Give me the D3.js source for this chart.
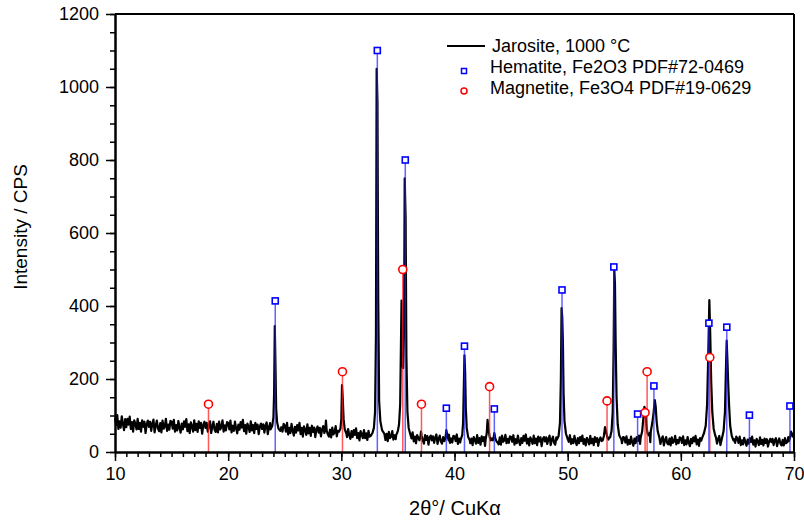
<!DOCTYPE html>
<html>
<head>
<meta charset="utf-8">
<script src="https://cdn.jsdelivr.net/npm/d3@7"></script>
<style>
body { margin: 0; background: #fff; }
text { font-family: "Liberation Sans", Arial, sans-serif; fill: #000; }
</style>
</head>
<body>
<div id="chart"></div>
<script>
// measured scan: background counts every 0.1 deg from 10 to 70 (one row per degree)
const scanStart = 10;
const scanStep = 0.1;
const background = [
    94, 74, 101, 63, 84, 67, 98, 77, 60, 90,
    68, 91, 75, 97, 63, 82, 56, 87, 77, 62,
    91, 63, 80, 56, 87, 69, 83, 52, 76, 86,
    69, 83, 58, 78, 89, 54, 73, 86, 64, 57,
    79, 54, 86, 64, 70, 91, 58, 75, 61, 85,
    83, 64, 88, 56, 74, 59, 85, 67, 53, 78,
    62, 84, 69, 90, 57, 76, 52, 81, 71, 56,
    87, 60, 77, 55, 84, 66, 80, 50, 73, 83,
    66, 80, 56, 75, 84, 52, 70, 83, 61, 55,
    77, 54, 83, 62, 68, 87, 56, 73, 59, 82,
    79, 62, 86, 54, 72, 58, 83, 65, 51, 75,
    61, 82, 67, 88, 57, 74, 50, 78, 69, 55,
    84, 59, 74, 52, 80, 63, 75, 49, 70, 78,
    63, 76, 53, 72, 81, 49, 67, 79, 59, 52,
    71, 49, 78, 58, 63, 82, 53, 68, 56, 77,
    73, 56, 80, 48, 66, 52, 77, 59, 45, 69,
    53, 74, 59, 80, 49, 66, 42, 70, 61, 47,
    76, 51, 66, 44, 72, 55, 67, 41, 62, 70,
    53, 66, 43, 62, 71, 39, 57, 69, 49, 42,
    61, 40, 67, 48, 53, 71, 43, 58, 46, 65,
    60, 46, 66, 38, 54, 41, 63, 47, 36, 57,
    41, 60, 47, 65, 38, 52, 32, 57, 49, 38,
    60, 38, 51, 33, 58, 42, 54, 29, 49, 56,
    42, 53, 35, 49, 58, 32, 46, 55, 38, 33,
    50, 30, 55, 38, 42, 57, 34, 46, 35, 53,
    51, 38, 56, 30, 45, 34, 55, 39, 29, 48,
    31, 50, 37, 54, 29, 42, 24, 46, 39, 28,
    49, 28, 41, 23, 46, 33, 44, 20, 39, 45,
    32, 43, 25, 39, 48, 22, 36, 45, 28, 23,
    41, 21, 46, 29, 33, 48, 25, 37, 26, 44,
    43, 30, 48, 22, 37, 26, 47, 31, 21, 41,
    26, 45, 32, 49, 24, 37, 19, 41, 34, 23,
    46, 25, 38, 20, 43, 30, 41, 17, 36, 42,
    30, 41, 23, 37, 46, 20, 34, 43, 26, 21,
    40, 20, 45, 28, 32, 47, 24, 36, 25, 43,
    41, 28, 46, 20, 35, 24, 45, 29, 19, 38,
    25, 44, 31, 48, 23, 36, 18, 40, 33, 22,
    45, 24, 37, 19, 42, 29, 40, 16, 35, 41,
    29, 40, 22, 36, 45, 19, 33, 42, 25, 20,
    40, 20, 45, 28, 32, 47, 24, 36, 25, 43,
    41, 28, 46, 22, 35, 24, 44, 29, 19, 38,
    24, 41, 30, 45, 22, 35, 18, 39, 32, 21,
    44, 24, 36, 19, 41, 28, 38, 17, 34, 40,
    30, 39, 22, 35, 43, 18, 32, 41, 24, 21,
    38, 19, 41, 26, 30, 45, 22, 34, 24, 41,
    39, 26, 43, 20, 33, 22, 42, 27, 17, 37,
    24, 41, 30, 45, 22, 35, 18, 39, 32, 21,
    46, 31, 40, 27, 44, 34, 41, 25, 38, 43,
    30, 39, 22, 35, 43, 18, 32, 41, 24, 21,
    37, 18, 40, 25, 29, 44, 21, 33, 24, 40,
    38, 25, 43, 19, 32, 21, 41, 26, 16, 36,
    24, 40, 29, 44, 21, 34, 17, 38, 31, 20,
    44, 29, 38, 25, 42, 32, 39, 23, 36, 41,
    31, 40, 23, 36, 44, 19, 33, 42, 25, 22,
    39, 20, 42, 27, 31, 46, 23, 35, 25, 42,
    37, 25, 42, 19, 32, 21, 39, 28, 17, 34,
    23, 38, 27, 42, 20, 32, 15, 36, 29, 19,
    40, 22, 33, 18, 37, 25, 35, 15, 29, 36,
    27, 36, 19, 32, 38, 16, 29, 37, 23, 18,
    33, 18, 38, 24, 27, 41, 20, 31, 22, 37,
    40
];

// reflections, [2theta, counts]
const peaks = [
    [[23.75, 62], [23.9, 72], [24.0, 95], [24.06, 160], [24.12, 345], [24.18, 240], [24.24, 120], [24.32, 82], [24.45, 64], [24.6, 58]],
    [[28.5, 52], [28.58, 62], [28.64, 86], [28.7, 60], [28.78, 50]],
    [[29.8, 56], [29.92, 64], [30.0, 90], [30.06, 183], [30.12, 150], [30.2, 90], [30.3, 62], [30.45, 50]],
    [[32.6, 44], [32.75, 52], [32.88, 66], [32.98, 110], [33.06, 320], [33.12, 1050], [33.19, 960], [33.26, 420], [33.34, 140], [33.45, 84], [33.6, 60], [33.8, 50]],
    [[34.85, 46], [35.0, 58], [35.1, 76], [35.2, 130], [35.27, 300], [35.32, 415], [35.38, 250], [35.46, 230], [35.54, 330], [35.6, 750], [35.68, 640], [35.75, 260], [35.84, 110], [35.95, 66], [36.1, 48]],
    [[36.9, 32], [36.98, 40], [37.04, 56], [37.1, 44], [37.2, 32]],
    [[39.1, 30], [39.2, 38], [39.28, 60], [39.36, 46], [39.48, 32]],
    [[40.55, 34], [40.68, 46], [40.76, 80], [40.83, 190], [40.88, 265], [40.94, 220], [41.0, 120], [41.08, 66], [41.2, 42], [41.35, 32]],
    [[42.75, 34], [42.85, 52], [42.92, 88], [43.0, 64], [43.1, 42], [43.2, 32]],
    [[43.38, 32], [43.46, 40], [43.52, 52], [43.6, 38], [43.7, 30]],
    [[49.05, 34], [49.2, 44], [49.32, 80], [49.4, 200], [49.46, 394], [49.52, 370], [49.58, 300], [49.64, 160], [49.72, 84], [49.85, 50], [50.0, 36]],
    [[53.1, 32], [53.2, 44], [53.3, 68], [53.38, 58], [53.5, 40], [53.6, 34]],
    [[53.75, 40], [53.88, 58], [53.98, 110], [54.06, 280], [54.12, 500], [54.18, 460], [54.24, 300], [54.32, 150], [54.42, 76], [54.55, 46], [54.75, 34]],
    [[56.45, 40], [56.58, 56], [56.7, 96], [56.78, 124], [56.86, 116], [56.95, 76], [57.05, 52], [57.15, 46], [57.25, 52]],
    [[57.35, 58], [57.48, 80], [57.6, 110], [57.7, 142], [57.78, 124], [57.86, 84], [57.96, 56], [58.1, 40]],
    [[61.9, 40], [62.05, 52], [62.2, 72], [62.32, 130], [62.42, 260], [62.52, 416], [62.6, 320], [62.68, 196], [62.78, 110], [62.9, 64], [63.05, 44]],
    [[63.65, 40], [63.78, 58], [63.9, 110], [63.98, 220], [64.05, 305], [64.12, 250], [64.18, 193], [64.26, 130], [64.36, 72], [64.5, 44], [64.65, 32]],
    [[69.55, 30], [69.66, 40], [69.74, 56], [69.82, 50], [69.9, 42], [70.0, 44]]
];

// PDF reference lines
const hematite2Theta = [24.16, 33.18, 35.65, 39.28, 40.88, 43.52, 49.5, 54.08, 56.18, 57.62, 62.48, 64.06, 66.06, 69.64];
const hematiteIntensity = [414, 1100, 800, 120, 290, 118, 444, 507, 104, 181, 353, 342, 101, 126];
const magnetite2Theta = [18.26, 30.1, 35.43, 37.08, 43.1, 53.48, 56.84, 57.02, 62.56];
const magnetiteIntensity = [131, 220, 500, 131, 179, 140, 108, 220, 259];

const xTicks = [10, 20, 30, 40, 50, 60, 70];
const yTicks = [0, 200, 400, 600, 800, 1000, 1200];
const legendLabels = ['Jarosite, 1000 °C', 'Hematite, Fe2O3 PDF#72-0469', 'Magnetite, Fe3O4 PDF#19-0629'];

function buildPattern() {
    let points = background.map((c, i) => ({x: +(scanStart + i * scanStep).toFixed(2), y: c}));
    peaks.forEach(pk => {
        const lo = pk[0][0], hi = pk[pk.length - 1][0];
        points = points.filter(p => p.x < lo || p.x > hi);
        pk.forEach(p => points.push({x: p[0], y: p[1]}));
    });
    return points.sort((a, b) => a.x - b.x);
}

function drawChart() {
    const W = 804, H = 521;
    const margin = {top: 14, right: 10, bottom: 69, left: 115};
    const width = W - margin.left - margin.right;
    const height = H - margin.top - margin.bottom;

    const svg = d3.select('#chart')
        .append('svg')
            .attr('width', W)
            .attr('height', H)
        .append('g')
            .attr('transform', `translate(${margin.left},${margin.top})`);

    const x = d3.scaleLinear().domain([10, 70]).range([0, width]);
    const y = d3.scaleLinear().domain([0, 1200]).range([height, 0]);

    // pattern
    svg.append('path')
        .datum(buildPattern())
        .attr('fill', 'none')
        .attr('stroke', '#000')
        .attr('stroke-width', 2.2)
        .attr('stroke-linejoin', 'round')
        .attr('d', d3.line().x(d => x(d.x)).y(d => y(d.y)));

    // hematite sticks
    const hem = hematite2Theta.map((t, i) => ({t, v: hematiteIntensity[i]}));
    svg.selectAll('line.hem')
        .data(hem)
        .enter().append('line')
            .attr('class', 'hem')
            .attr('x1', d => x(d.t)).attr('x2', d => x(d.t))
            .attr('y1', y(0)).attr('y2', d => y(d.v) + 3)
            .attr('stroke', '#2020ff')
            .attr('stroke-opacity', 0.7)
            .attr('stroke-width', 1.5);
    svg.selectAll('rect.hem')
        .data(hem)
        .enter().append('rect')
            .attr('x', d => x(d.t) - 3)
            .attr('y', d => y(d.v) - 3)
            .attr('width', 6).attr('height', 6)
            .attr('fill', '#fff')
            .attr('stroke', '#0000ff')
            .attr('stroke-width', 1.6);

    // magnetite sticks
    const mag = magnetite2Theta.map((t, i) => ({t, v: magnetiteIntensity[i]}));
    svg.selectAll('line.mag')
        .data(mag)
        .enter().append('line')
            .attr('class', 'mag')
            .attr('x1', d => x(d.t)).attr('x2', d => x(d.t))
            .attr('y1', y(0)).attr('y2', d => y(d.v) + 4)
            .attr('stroke', '#ff2020')
            .attr('stroke-opacity', 0.75)
            .attr('stroke-width', 1.5);
    svg.selectAll('circle.mag')
        .data(mag)
        .enter().append('circle')
            .attr('cx', d => x(d.t))
            .attr('cy', d => y(d.v))
            .attr('r', 4)
            .attr('fill', '#fff')
            .attr('stroke', '#ff0000')
            .attr('stroke-width', 1.6);

    // axes
    const xMinor = svg.append('g')
        .attr('transform', `translate(0,${height})`)
        .call(d3.axisBottom(x).tickValues(d3.range(10, 71, 1)).tickSize(5).tickSizeOuter(0).tickFormat(''));
    const xAxis = svg.append('g')
        .attr('transform', `translate(0,${height})`)
        .call(d3.axisBottom(x).tickValues(xTicks).tickSize(9).tickSizeOuter(0).tickPadding(6).tickFormat(d3.format('d')));
    const yMinor = svg.append('g')
        .call(d3.axisLeft(y).tickValues(d3.range(0, 1201, 50)).tickSize(5).tickSizeOuter(0).tickFormat(''));
    const yAxis = svg.append('g')
        .call(d3.axisLeft(y).tickValues(yTicks).tickSize(9).tickSizeOuter(0).tickPadding(7).tickFormat(d3.format('d')));

    [xMinor, xAxis, yMinor, yAxis].forEach(g => {
        g.selectAll('.tick line').attr('stroke-width', 1.5);
        g.select('.domain').attr('stroke-width', 2);
        g.selectAll('text').style('font-size', '18px').style('font-family', '"Liberation Sans", Arial, sans-serif');
    });

    // frame top and right
    svg.append('line')
        .attr('x1', 0).attr('x2', width).attr('y1', 0).attr('y2', 0)
        .attr('stroke', '#000').attr('stroke-width', 2);
    svg.append('line')
        .attr('x1', width).attr('x2', width).attr('y1', 0).attr('y2', height)
        .attr('stroke', '#000').attr('stroke-width', 2);

    // titles
    svg.append('text')
        .attr('text-anchor', 'middle')
        .attr('x', 455 - margin.left)
        .attr('y', height + 63)
        .style('font-size', '20px')
        .text('2θ°/ CuKα');

    svg.append('text')
        .attr('text-anchor', 'middle')
        .attr('transform', 'rotate(-90)')
        .attr('x', -(227 - margin.top))
        .attr('y', -margin.left + 27)
        .style('font-size', '19px')
        .text('Intensity / CPS');

    // legend
    const lg = svg.append('g').attr('transform', `translate(${447 - margin.left},${46 - margin.top})`);
    lg.append('line')
        .attr('x1', 0).attr('x2', 38).attr('y1', 0).attr('y2', 0)
        .attr('stroke', '#000').attr('stroke-width', 2);
    lg.append('rect')
        .attr('x', 17 - 2.5).attr('y', 25 - 2.5)
        .attr('width', 5).attr('height', 5)
        .attr('fill', '#fff').attr('stroke', '#0000ff').attr('stroke-width', 1.5);
    lg.append('circle')
        .attr('cx', 17).attr('cy', 45).attr('r', 3)
        .attr('fill', '#fff').attr('stroke', '#ff0000').attr('stroke-width', 1.5);
    lg.selectAll('text.lab')
        .data(legendLabels)
        .enter().append('text')
            .attr('class', 'lab')
            .attr('x', (d, i) => i === 0 ? 45 : 43)
            .attr('y', (d, i) => i * 21 + 6)
            .style('font-size', '18px')
            .text(d => d);
}

drawChart();
</script>
</body>
</html>
